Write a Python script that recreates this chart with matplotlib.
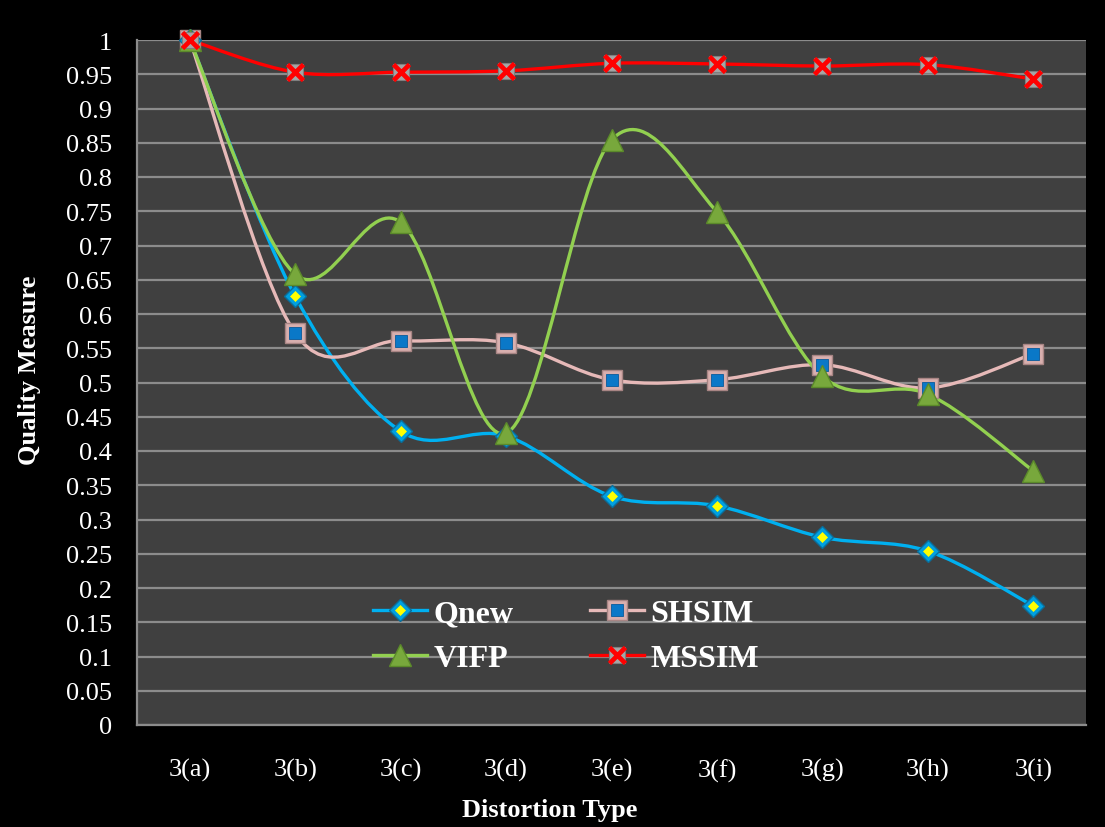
import matplotlib
matplotlib.use('Agg')
import matplotlib.pyplot as plt
from matplotlib.path import Path
from matplotlib.patches import PathPatch
from matplotlib.lines import Line2D
from matplotlib.legend_handler import HandlerTuple
import numpy as np

categories = ['3(a)', '3(b)', '3(c)', '3(d)', '3(e)', '3(f)', '3(g)', '3(h)', '3(i)']
qnew = [1.0, 0.626, 0.429, 0.422, 0.334, 0.320, 0.274, 0.254, 0.174]
shsim = [1.0, 0.572, 0.561, 0.558, 0.504, 0.504, 0.526, 0.492, 0.542]
vifp = [1.0, 0.658, 0.734, 0.426, 0.854, 0.749, 0.509, 0.483, 0.371]
mssim = [1.0, 0.953, 0.953, 0.955, 0.966, 0.965, 0.962, 0.964, 0.943]
yticks = [0, 0.05, 0.1, 0.15, 0.2, 0.25, 0.3, 0.35, 0.4, 0.45, 0.5, 0.55, 0.6,
          0.65, 0.7, 0.75, 0.8, 0.85, 0.9, 0.95, 1]
ytick_labels = ['0', '0.05', '0.1', '0.15', '0.2', '0.25', '0.3', '0.35', '0.4', '0.45',
                '0.5', '0.55', '0.6', '0.65', '0.7', '0.75', '0.8', '0.85', '0.9', '0.95', '1']

plt.rcParams['font.family'] = ['Liberation Serif', 'DejaVu Serif']

fig = plt.figure(figsize=(11.05, 8.28), dpi=100, facecolor='black')
ax = fig.add_axes([137 / 1105, 1 - 726 / 828, (1086 - 137) / 1105, (726 - 41) / 828])
ax.set_facecolor('#404040')

x = np.arange(len(categories))


def smooth_path(xs, ys):
    pts = np.column_stack([xs, ys]).astype(float)
    n = len(pts)
    verts = [pts[0]]
    codes = [Path.MOVETO]
    for i in range(n - 1):
        p0 = pts[max(i - 1, 0)]
        p1 = pts[i]
        p2 = pts[i + 1]
        p3 = pts[min(i + 2, n - 1)]
        c1 = p1 + (p2 - p0) / 6.0
        c2 = p2 - (p3 - p1) / 6.0
        verts += [c1, c2, p2]
        codes += [Path.CURVE4] * 3
    return Path(verts, codes)


series = [
    ('Qnew', qnew, '#00B0F0'),
    ('SHSIM', shsim, '#E6B9B8'),
    ('VIFP', vifp, '#92D050'),
    ('MSSIM', mssim, '#FF0000'),
]
for name, vals, col in series:
    pp = PathPatch(smooth_path(x, vals), fill=False, edgecolor=col, lw=2.4,
                   capstyle='round', joinstyle='round', zorder=3, clip_on=False)
    ax.add_patch(pp)


def marker_layers(name):
    if name == 'Qnew':
        return [dict(marker='D', ms=11, mfc='#00A0E0', mec='#0A6E9A', mew=1.0),
                dict(marker='D', ms=5, mfc='#FFFF00', mec='#FFFF00', mew=0.5)]
    if name == 'SHSIM':
        return [dict(marker='s', ms=14, mfc='#D8AFAE', mec='#A88584', mew=1.0),
                dict(marker='s', ms=8.5, mfc='#0A78C8', mec='#0A5A9A', mew=0.6)]
    if name == 'VIFP':
        return [dict(marker='^', ms=16, mfc='#78A83C', mec='#5B8A2A', mew=1.0)]
    return [dict(marker='s', ms=12, mfc='#A6A6A6', mec='#7F7F7F', mew=0.8),
            dict(marker='x', ms=12, mfc='none', mec='#FF0000', mew=3.4)]


data = {n: (v, c) for n, v, c in series}
z = 5
for name in ['SHSIM', 'Qnew', 'VIFP', 'MSSIM']:
    vals, col = data[name]
    for layer in marker_layers(name):
        ax.plot(x, vals, linestyle='none', zorder=z, clip_on=False, **layer)
        z += 0.1

ax.set_xlim(-0.5, len(categories) - 0.5)
ax.set_ylim(0, 1)
ax.set_yticks(yticks)
ax.set_yticklabels(ytick_labels)
ax.set_xticks(x)
ax.set_xticklabels(categories)
ax.tick_params(axis='y', length=0, pad=18, labelsize=19, colors='white')
ax.tick_params(axis='x', length=0, pad=24, labelsize=19, colors='white')
ax.yaxis.grid(True, color='#8C8C8C', lw=1.6, zorder=0)
ax.set_axisbelow(True)
for s in ['top', 'right']:
    ax.spines[s].set_visible(False)
for s in ['left', 'bottom']:
    ax.spines[s].set_color('#8C8C8C')
    ax.spines[s].set_linewidth(1.6)

fig.text(30 / 1105, 1 - 370 / 828, 'Quality Measure', rotation=90, color='white',
         fontsize=19, fontweight='bold', ha='center', va='center')
fig.text(550 / 1105, 1 - 811 / 828, 'Distortion Type', color='white',
         fontsize=19, fontweight='bold', ha='center', va='center')

# legend
handles = []
labels = []
for name in ['Qnew', 'VIFP', 'SHSIM', 'MSSIM']:
    vals, col = data[name]
    parts = [Line2D([], [], color=col, lw=2.4)]
    for layer in marker_layers(name):
        parts.append(Line2D([], [], linestyle='none', **layer))
    handles.append(tuple(parts))
    labels.append(name)
leg = ax.legend(handles, labels, handler_map={tuple: HandlerTuple(ndivide=1)},
                ncol=2, loc='center', bbox_to_anchor=(0.452, 0.13), frameon=False,
                prop={'family': 'Liberation Serif', 'weight': 'bold', 'size': 23},
                handlelength=1.7, handletextpad=0.2, columnspacing=2.4, labelspacing=0.5)
for t in leg.get_texts():
    t.set_color('white')

fig.savefig('out.png', dpi=100, facecolor='black')
